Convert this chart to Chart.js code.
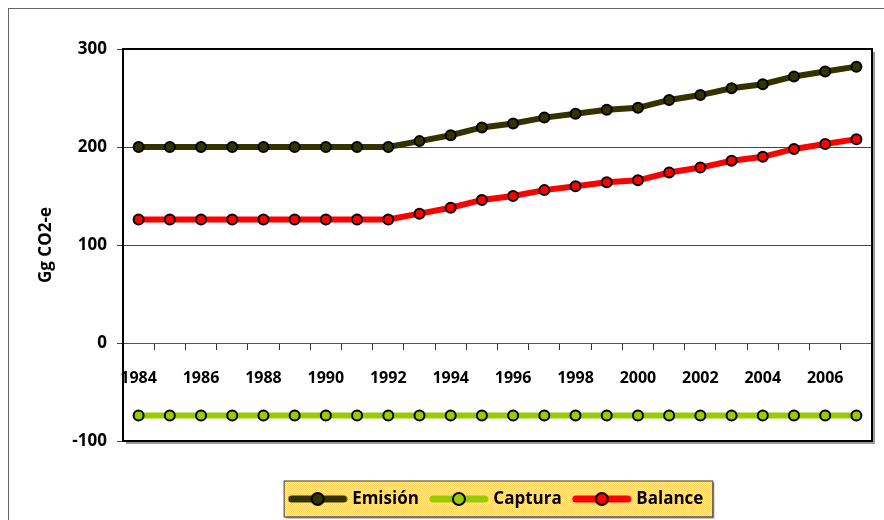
<!DOCTYPE html>
<html>
<head>
<meta charset="utf-8">
<script src="https://cdn.jsdelivr.net/npm/chart.js@4/dist/chart.umd.min.js"></script>
<style>
    html, body { margin: 0; padding: 0; background: #fff; }
</style>
</head>
<body>
<canvas id="myChart" width="884" height="520"></canvas>
<script>
const years = [1984, 1985, 1986, 1987, 1988, 1989, 1990, 1991, 1992, 1993, 1994, 1995,
               1996, 1997, 1998, 1999, 2000, 2001, 2002, 2003, 2004, 2005, 2006, 2007];
const emision = [200, 200, 200, 200, 200, 200, 200, 200, 200, 206, 212, 220,
                 224, 230, 234, 238, 240, 248, 253, 260, 264, 272, 277, 282];
const captura = [-74, -74, -74, -74, -74, -74, -74, -74, -74, -74, -74, -74,
                 -74, -74, -74, -74, -74, -74, -74, -74, -74, -74, -74, -74];
const balance = [126, 126, 126, 126, 126, 126, 126, 126, 126, 132, 138, 146,
                 150, 156, 160, 164, 166, 174, 179, 186, 190, 198, 203, 208];
const yTicks = [-100, 0, 100, 200, 300];

const FONT = "'Open Sans', 'DejaVu Sans', sans-serif";

// little line + marker picture for each legend entry
function legendSample(color) {
    const c = document.createElement("canvas");
    c.width = 60;
    c.height = 16;
    const g = c.getContext("2d");
    g.strokeStyle = color;
    g.lineWidth = 7;
    g.lineCap = "round";
    g.beginPath();
    g.moveTo(4, 8);
    g.lineTo(56, 8);
    g.stroke();
    g.fillStyle = color;
    g.strokeStyle = "#000";
    g.lineWidth = 2;
    g.beginPath();
    g.arc(30, 8, 6, 0, Math.PI * 2);
    g.fill();
    g.stroke();
    return c;
}

function yellowPattern(ctx) {
    const c = document.createElement("canvas");
    c.width = 2;
    c.height = 2;
    const g = c.getContext("2d");
    g.fillStyle = "#fff0a8";
    g.fillRect(0, 0, 2, 2);
    g.fillStyle = "#ffd45c";
    g.fillRect(0, 0, 1, 1);
    g.fillRect(1, 1, 1, 1);
    return ctx.createPattern(c, "repeat");
}

const frames = {
    id: "frames",
    beforeDraw(chart) {
        const ctx = chart.ctx;
        ctx.save();
        // outer chart frame
        ctx.strokeStyle = "#666";
        ctx.lineWidth = 1;
        ctx.strokeRect(8.5, 8.5, 1000, 1000);

        // legend background
        const hb = chart.legend.legendHitBoxes;
        if (hb && hb.length) {
            const left = hb[0].left - 8;
            const last = hb[hb.length - 1];
            const right = last.left + last.width + 9;
            const top = hb[0].top - 10;
            const bottom = hb[0].top + hb[0].height + 9;
            ctx.fillStyle = "#999";
            ctx.fillRect(left + 2, top + 2, right - left, bottom - top);
            ctx.fillStyle = yellowPattern(ctx);
            ctx.fillRect(left, top, right - left, bottom - top);
            ctx.strokeStyle = "#404040";
            ctx.strokeRect(left + 0.5, top + 0.5, right - left, bottom - top);
        }
        ctx.restore();
    },
    beforeDatasetsDraw(chart) {
        const { ctx, chartArea: a } = chart;
        ctx.save();
        ctx.strokeStyle = "#999";
        ctx.lineWidth = 2;
        ctx.beginPath();
        ctx.moveTo(a.right + 2, a.top + 3);
        ctx.lineTo(a.right + 2, a.bottom + 2);
        ctx.lineTo(a.left + 3, a.bottom + 2);
        ctx.stroke();
        ctx.strokeStyle = "#000";
        ctx.lineWidth = 2;
        ctx.strokeRect(a.left, a.top, a.right - a.left, a.bottom - a.top);
        ctx.restore();
    }
};

const samples = [legendSample("#333300"), legendSample("#99cc00"), legendSample("#ff0000")];

const ctx = document.getElementById("myChart").getContext("2d");

new Chart(ctx, {
    type: "line",
    data: {
        labels: years,
        datasets: [
            {
                label: "Emisión",
                data: emision,
                borderColor: "#333300",
                backgroundColor: "#333300",
                borderWidth: 6,
                pointRadius: 5,
                pointBorderWidth: 2,
                pointBorderColor: "#000",
                pointBackgroundColor: "#333300"
            },
            {
                label: "Captura",
                data: captura,
                borderColor: "#99cc00",
                backgroundColor: "#99cc00",
                borderWidth: 6,
                pointRadius: 5,
                pointBorderWidth: 2,
                pointBorderColor: "#000",
                pointBackgroundColor: "#99cc00"
            },
            {
                label: "Balance",
                data: balance,
                borderColor: "#ff0000",
                backgroundColor: "#ff0000",
                borderWidth: 6,
                pointRadius: 5,
                pointBorderWidth: 2,
                pointBorderColor: "#000",
                pointBackgroundColor: "#ff0000"
            }
        ]
    },
    options: {
        responsive: false,
        animation: false,
        layout: { padding: { left: 28, right: 12, top: 49, bottom: 2.5 } },
        plugins: {
            tooltip: { enabled: false },
            legend: {
                position: "bottom",
                fullSize: false,
                // empty title only to push the entries down
                title: { display: true, text: "", font: { size: 10 }, padding: { top: 0, bottom: 23.5 } },
                labels: {
                    usePointStyle: true,
                    pointStyleWidth: 52,
                    padding: 14,
                    color: "#000",
                    font: { family: FONT, size: 17, weight: "bold" },
                    generateLabels: (chart) => chart.data.datasets.map((ds, i) => ({
                        text: ds.label,
                        pointStyle: samples[i],
                        datasetIndex: i,
                        fontColor: "#000",
                        lineWidth: 0,
                        hidden: false
                    }))
                }
            }
        },
        scales: {
            x: {
                position: { y: 0 },
                offset: true,
                grid: { offset: true, drawOnChartArea: false, drawTicks: true, tickLength: 6, color: "#333", lineWidth: 1 },
                border: { display: true, color: "#555", width: 1 },
                ticks: {
                    autoSkip: false,
                    maxRotation: 0,
                    padding: 20,
                    color: "#000",
                    font: { family: FONT, size: 16, weight: "bold" },
                    callback: (v, i) => (i % 2 === 0 ? String(years[i]) : "")
                },
                afterFit: (s) => { s.height = 0; }
            },
            y: {
                min: -100,
                max: 300,
                afterBuildTicks: (s) => { s.ticks = yTicks.map(v => ({ value: v })); },
                grid: { color: "#444", lineWidth: 1, tickLength: 6 },
                border: { display: true, color: "#000", width: 2 },
                ticks: {
                    padding: 10,
                    color: "#000",
                    font: { family: FONT, size: 17, weight: "bold" }
                },
                title: {
                    display: true,
                    text: "Gg CO2-e",
                    color: "#000",
                    font: { family: FONT, size: 17, weight: "bold" },
                    padding: { top: 8, bottom: 0 }
                },
                afterFit: (s) => { s.width = 95; }
            }
        }
    },
    plugins: [frames]
});
</script>
</body>
</html>
